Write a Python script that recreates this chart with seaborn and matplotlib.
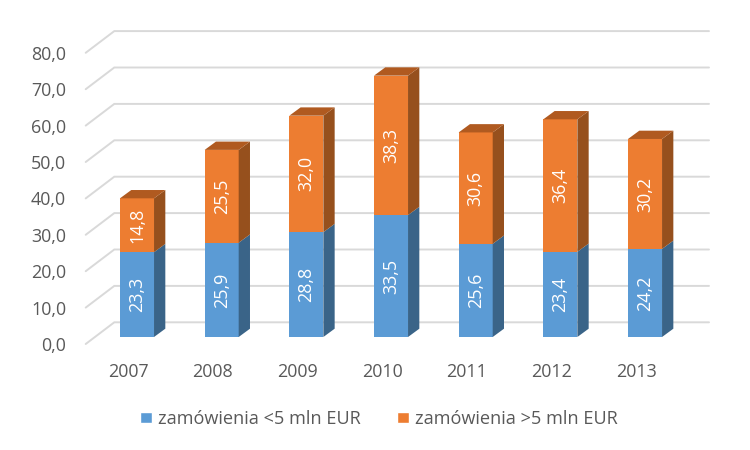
from __future__ import annotations

import matplotlib
matplotlib.use("Agg")
import matplotlib.pyplot as plt
import matplotlib.transforms as mtransforms
import pandas as pd
import seaborn as sns
from matplotlib.patches import Patch, Polygon, Rectangle

YEARS = ["2007", "2008", "2009", "2010", "2011", "2012", "2013"]
SMALL_ORDERS = [23.3, 25.9, 28.8, 33.5, 25.6, 23.4, 24.2]
LARGE_ORDERS = [14.8, 25.5, 32.0, 38.3, 30.6, 36.4, 30.2]
SERIES_NAMES = ["zamówienia <5 mln EUR", "zamówienia >5 mln EUR"]
Y_TICKS = [0, 10, 20, 30, 40, 50, 60, 70, 80]

BLUE = "#5B9BD5"
BLUE_SIDE = "#3A6488"
ORANGE = "#ED7D31"
ORANGE_SIDE = "#96501D"
ORANGE_TOP = "#B05A20"
GRID = "#D9D9D9"
TEXT = "#595959"

# pixel geometry of the fake 3D box, everything below is derived from it
PX_PER_CAT = 84.67
PX_PER_UNIT = 3.64
FIRST_BAR_PX = 137.0
BASE_PX = 337.0
AX_LEFT, AX_RIGHT, AX_TOP, AX_BOTTOM = 72, 730, 20, 358

sns.set_theme(style="white")
plt.rcParams["font.family"] = ["Open Sans", "DejaVu Sans"]

df = pd.DataFrame({"rok": YEARS, "small": SMALL_ORDERS, "large": LARGE_ORDERS})

fig = plt.figure(figsize=(7.5, 4.5), dpi=100)
ax = fig.add_axes(
    [AX_LEFT / 750, 1 - AX_BOTTOM / 450, (AX_RIGHT - AX_LEFT) / 750, (AX_BOTTOM - AX_TOP) / 450]
)

sns.barplot(data=df, x="rok", y="small", color=BLUE, saturation=1, width=0.402,
            edgecolor="none", linewidth=0, ax=ax)
sns.barplot(data=df, x="rok", y="large", bottom=df["small"].to_numpy(), color=ORANGE,
            saturation=1, width=0.402, edgecolor="none", linewidth=0, ax=ax)

ax.set_xlim((AX_LEFT - FIRST_BAR_PX) / PX_PER_CAT, (AX_RIGHT - FIRST_BAR_PX) / PX_PER_CAT)
ax.set_ylim((BASE_PX - AX_BOTTOM) / PX_PER_UNIT, (BASE_PX - AX_TOP) / PX_PER_UNIT)

# side and top faces of the bars
bar_dx = 11.3 / PX_PER_CAT
bar_dy = 8.3 / PX_PER_UNIT
bars = [p for p in ax.patches if isinstance(p, Rectangle)]
n = len(YEARS)
for i, bar in enumerate(bars):
    x1 = bar.get_x() + bar.get_width()
    x0 = bar.get_x()
    y0 = bar.get_y()
    y1 = y0 + bar.get_height()
    side = BLUE_SIDE if i < n else ORANGE_SIDE
    ax.add_patch(Polygon([(x1, y0), (x1 + bar_dx, y0 + bar_dy), (x1 + bar_dx, y1 + bar_dy), (x1, y1)],
                         facecolor=side, edgecolor="none", zorder=1))
    if i >= n:
        ax.add_patch(Polygon([(x0, y1), (x0 + bar_dx, y1 + bar_dy), (x1 + bar_dx, y1 + bar_dy), (x1, y1)],
                             facecolor=ORANGE_TOP, edgecolor="none", zorder=1))
    ax.text(x0 + bar.get_width() / 2, y0 + bar.get_height() / 2, f"{bar.get_height():.1f}".replace(".", ","),
            rotation=90, ha="center", va="center", color="white", fontsize=12.9, zorder=3)

# walls: back gridlines plus the diagonal floor/side lines
front_x = (85.7 - FIRST_BAR_PX) / PX_PER_CAT
back_x = (114.3 - FIRST_BAR_PX) / PX_PER_CAT
end_x = (709 - FIRST_BAR_PX) / PX_PER_CAT
front_dy = (BASE_PX - 344.0) / PX_PER_UNIT
back_dy = (BASE_PX - 322.3) / PX_PER_UNIT
for tick in Y_TICKS:
    ax.plot([front_x, back_x, end_x], [tick + front_dy, tick + back_dy, tick + back_dy],
            color=GRID, linewidth=1.4, zorder=0.5, clip_on=False, solid_joinstyle="miter")

ax.set_xlabel("")
ax.set_ylabel("")
ax.set_yticks(Y_TICKS, [f"{t:.1f}".replace(".", ",") for t in Y_TICKS])
ax.tick_params(axis="y", length=0, pad=4.3, labelsize=12.9, labelcolor=TEXT)
ax.tick_params(axis="x", length=0, pad=3.6, labelsize=12.9, labelcolor=TEXT)
sns.despine(ax=ax, left=True, bottom=True)

# labels sit on the front edge of the box, not on the bar plane
shift_y = mtransforms.ScaledTranslation(0, -7 / 100, fig.dpi_scale_trans)
shift_x = mtransforms.ScaledTranslation(-9 / 100, 0, fig.dpi_scale_trans)
for label in ax.get_yticklabels():
    label.set_transform(label.get_transform() + shift_y)
for label in ax.get_xticklabels():
    label.set_transform(label.get_transform() + shift_x)

handles = [Patch(facecolor=BLUE, label=SERIES_NAMES[0]), Patch(facecolor=ORANGE, label=SERIES_NAMES[1])]
fig.legend(handles=handles, loc="center", bbox_to_anchor=(379 / 750, 1 - 419 / 450), ncol=2,
           frameon=False, fontsize=13.1, labelcolor=TEXT, handlelength=0.66, handleheight=0.62,
           handletextpad=0.33, columnspacing=1.98, borderpad=0)

fig.savefig("out.png", dpi=100)
